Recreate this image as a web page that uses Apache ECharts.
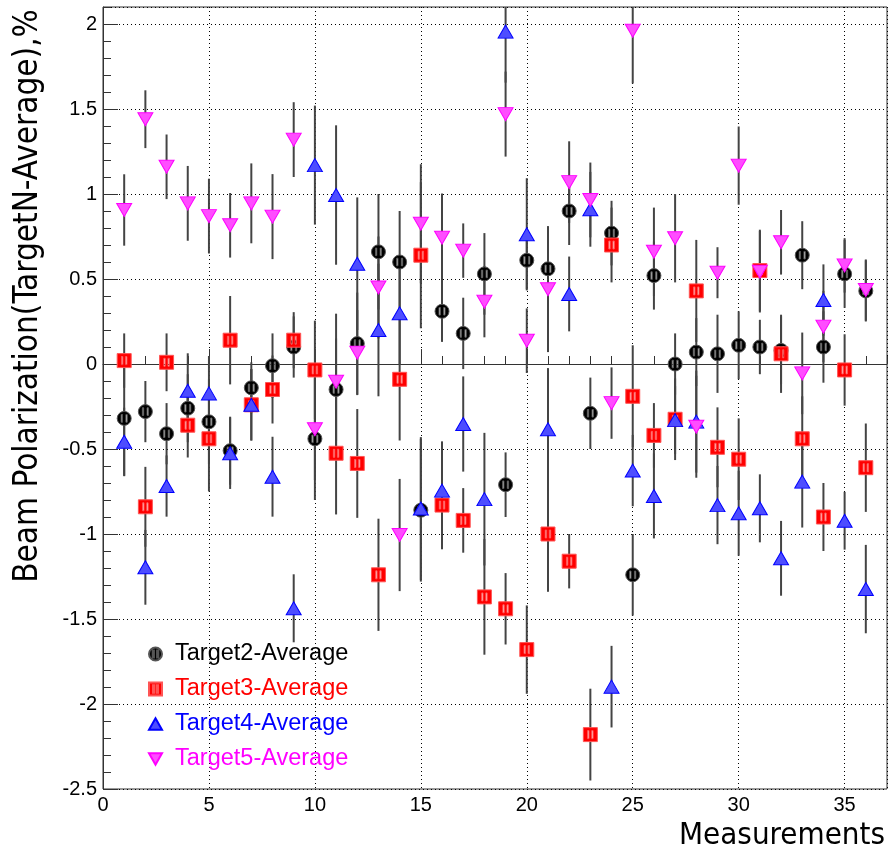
<!DOCTYPE html>
<html>
<head>
<meta charset="utf-8">
<script src="https://cdn.jsdelivr.net/npm/echarts@6/dist/echarts.min.js"></script>
<style>
html,body{margin:0;padding:0;background:#ffffff;}
#chart{width:889px;height:853px;}
</style>
</head>
<body>
<div id="chart"></div>
<script>
// ---- data ----
const measurements = [1,2,3,4,5,6,7,8,9,10,11,12,13,14,15,16,17,18,19,20,21,22,23,24,25,26,27,28,29,30,31,32,33,34,35,36];

const target2 = [-0.32,-0.28,-0.41,-0.26,-0.34,-0.51,-0.14,-0.01,0.10,-0.44,-0.15,0.12,0.66,0.60,-0.86,0.31,0.18,0.53,-0.71,0.61,0.56,0.90,-0.29,0.77,-1.24,0.52,0.00,0.07,0.06,0.11,0.10,0.08,0.64,0.10,0.53,0.43];
const target2Err = [0.34,0.18,0.18,0.20,0.25,0.20,0.15,0.19,0.18,0.36,0.30,0.30,0.34,0.30,0.42,0.18,0.21,0.24,0.19,0.17,0.25,0.20,0.21,0.19,0.24,0.20,0.18,0.20,0.23,0.20,0.16,0.20,0.20,0.21,0.20,0.18];

const target3 = [0.02,-0.84,0.01,-0.36,-0.44,0.14,-0.24,-0.15,0.14,-0.035,-0.525,-0.585,-1.24,-0.09,0.64,-0.83,-0.92,-1.37,-1.44,-1.68,-1.00,-1.16,-2.18,0.70,-0.19,-0.42,-0.325,0.43,-0.49,-0.56,0.55,0.06,-0.44,-0.90,-0.035,-0.61];
const target3Err = [0.16,0.235,0.17,0.19,0.31,0.26,0.21,0.20,0.165,0.29,0.36,0.32,0.33,0.36,0.43,0.26,0.19,0.34,0.21,0.26,0.34,0.16,0.27,0.22,0.30,0.19,0.24,0.30,0.235,0.24,0.24,0.23,0.25,0.20,0.21,0.26];

const target4 = [-0.457,-1.196,-0.718,-0.157,-0.173,-0.525,-0.24,-0.663,-1.437,1.17,0.994,0.59,0.20,0.298,-0.85,-0.745,-0.353,-0.795,1.955,0.763,-0.384,0.412,0.91,-1.898,-0.627,-0.776,-0.33,-0.339,-0.83,-0.878,-0.849,-1.143,-0.692,0.376,-0.922,-1.324];
const target4Err = [0.20,0.22,0.18,0.22,0.22,0.21,0.21,0.235,0.20,0.35,0.41,0.39,0.39,0.30,0.42,0.29,0.28,0.39,0.30,0.33,0.36,0.22,0.22,0.24,0.21,0.25,0.20,0.30,0.23,0.25,0.20,0.22,0.27,0.21,0.17,0.26];

const target5 = [0.906,1.44,1.16,0.945,0.87,0.816,0.945,0.867,1.32,-0.384,-0.104,0.067,0.45,-1.006,0.825,0.743,0.667,0.367,1.47,0.137,0.44,1.07,0.965,-0.23,1.96,0.66,0.74,-0.369,0.537,1.167,0.543,0.716,-0.055,0.22,0.58,0.435];
const target5Err = [0.21,0.17,0.19,0.22,0.22,0.19,0.235,0.25,0.22,0.30,0.40,0.25,0.30,0.33,0.35,0.26,0.16,0.21,0.25,0.19,0.37,0.24,0.22,0.21,0.31,0.26,0.26,0.30,0.15,0.23,0.24,0.19,0.24,0.21,0.16,0.18];

const seriesNames = ['Target2-Average','Target3-Average','Target4-Average','Target5-Average'];
const xTitle = 'Measurements';
const yTitle = 'Beam Polarization(TargetN-Average),%';

// ---- styling ----
const FONT = '"Liberation Sans", Arial, sans-serif';
const NARROW = '"Liberation Sans Narrow", "DejaVu Sans Condensed", "Liberation Sans", sans-serif';
const AXC = '#333333';

const SYM_CIRCLE = 'path://M7,0A7,7,0,1,1,7,14A7,7,0,1,1,7,0Z M4,3.2L4,10.8L5.3,10.8L5.3,3.2Z M8.7,3.2L8.7,10.8L10,10.8L10,3.2Z';
const SYM_SQUARE = 'path://M0,0L14,0L14,14L0,14Z M4.3,3L4.3,11L5.6,11L5.6,3Z M8.4,3L8.4,11L9.7,11L9.7,3Z';
const SYM_UP = 'path://M7,0L14,12.5L0,12.5Z';
const SYM_DOWN = 'path://M0,0L15,0L7.5,13Z';

function errSeries(xs, ys, es) {
  return {
    type: 'custom',
    name: 'err',
    silent: true,
    clip: true,
    data: xs.map((x, i) => [x, ys[i] - es[i], ys[i] + es[i]]),
    encode: { x: 0, y: [1, 2] },
    renderItem: function (params, api) {
      const lo = api.coord([api.value(0), api.value(1)]);
      const hi = api.coord([api.value(0), api.value(2)]);
      return {
        type: 'line',
        shape: { x1: lo[0], y1: lo[1], x2: hi[0], y2: hi[1] },
        style: { stroke: '#444444', lineWidth: 2 }
      };
    },
    z: 3
  };
}

function markSeries(name, xs, ys, symbol, size, fill, border) {
  return {
    type: 'scatter',
    name: name,
    clip: true,
    symbol: symbol,
    symbolSize: size,
    data: xs.map((x, i) => [x, ys[i]]),
    itemStyle: { color: fill, borderColor: border, borderWidth: 1, opacity: 1 },
    emphasis: { disabled: true },
    z: 3
  };
}

const chart = echarts.init(document.getElementById('chart'), null, { renderer: 'canvas' });

const option = {
  animation: false,
  backgroundColor: '#ffffff',
  grid: { left: 103, right: 2, top: 7, bottom: 64, show: true, borderColor: AXC, borderWidth: 1, backgroundColor: 'transparent' },
  xAxis: [
    {
      type: 'value', min: 0, max: 37, interval: 5,
      axisLine: { show: true, lineStyle: { color: AXC, width: 1 } },
      axisTick: { show: true, inside: true, length: 15, lineStyle: { color: AXC } },
      axisLabel: { show: true, showMaxLabel: false, fontSize: 20, color: '#000', fontFamily: FONT, margin: 6 },
      splitLine: { show: true, lineStyle: { color: '#000', width: 1, type: [1, 3] } }
    },
    {
      type: 'value', min: 0, max: 37, interval: 1, position: 'bottom',
      axisLine: { show: false },
      axisTick: { show: true, inside: true, length: 8, lineStyle: { color: AXC } },
      axisLabel: { show: false },
      splitLine: { show: false }
    }
  ],
  yAxis: [
    {
      type: 'value', min: -2.5, max: 2.1, interval: 0.5,
      axisLine: { show: true, lineStyle: { color: AXC, width: 1 } },
      axisTick: { show: true, inside: true, length: 15, lineStyle: { color: AXC } },
      axisLabel: { show: true, showMaxLabel: false, fontSize: 20, color: '#000', fontFamily: FONT, margin: 6 },
      splitLine: { show: true, lineStyle: { color: '#000', width: 1, type: [1, 3] } }
    },
    {
      type: 'value', min: -2.5, max: 2.1, interval: 0.1, position: 'left',
      axisLine: { show: false },
      axisTick: { show: true, inside: true, length: 8, lineStyle: { color: AXC } },
      axisLabel: { show: false },
      splitLine: { show: false }
    }
  ],
  legend: {
    orient: 'vertical',
    left: 143, top: 637,
    itemWidth: 13, itemHeight: 13, itemGap: 11,
    selectedMode: false,
    textStyle: { fontSize: 23.5, fontFamily: FONT, padding: [0, 0, 0, 8] },
    data: [
      { name: seriesNames[0], textStyle: { color: '#000000' } },
      { name: seriesNames[1], textStyle: { color: '#ff0000' } },
      { name: seriesNames[2], textStyle: { color: '#0000ff' } },
      { name: seriesNames[3], textStyle: { color: '#ff00ff' } }
    ]
  },
  graphic: [
    {
      type: 'text', x: 28, y: 296, rotation: Math.PI / 2,
      style: { text: yTitle, font: '33px ' + NARROW, fill: '#000', align: 'center', verticalAlign: 'middle' }
    },
    {
      type: 'text', right: 4, top: 820,
      style: { text: xTitle, font: '31px ' + NARROW, fill: '#000' }
    }
  ],
  series: [
    errSeries(measurements, target2, target2Err),
    markSeries(seriesNames[0], measurements, target2, SYM_CIRCLE, 14, '#000000', '#555555'),
    errSeries(measurements, target3, target3Err),
    markSeries(seriesNames[1], measurements, target3, SYM_SQUARE, 14, '#ff0000', '#ff5555'),
    errSeries(measurements, target4, target4Err),
    markSeries(seriesNames[2], measurements, target4, SYM_UP, [15, 13], '#4d4dff', '#0000ff'),
    errSeries(measurements, target5, target5Err),
    markSeries(seriesNames[3], measurements, target5, SYM_DOWN, [15, 13], '#ff4dff', '#ff00ff')
  ]
};

chart.setOption(option);
</script>
</body>
</html>
